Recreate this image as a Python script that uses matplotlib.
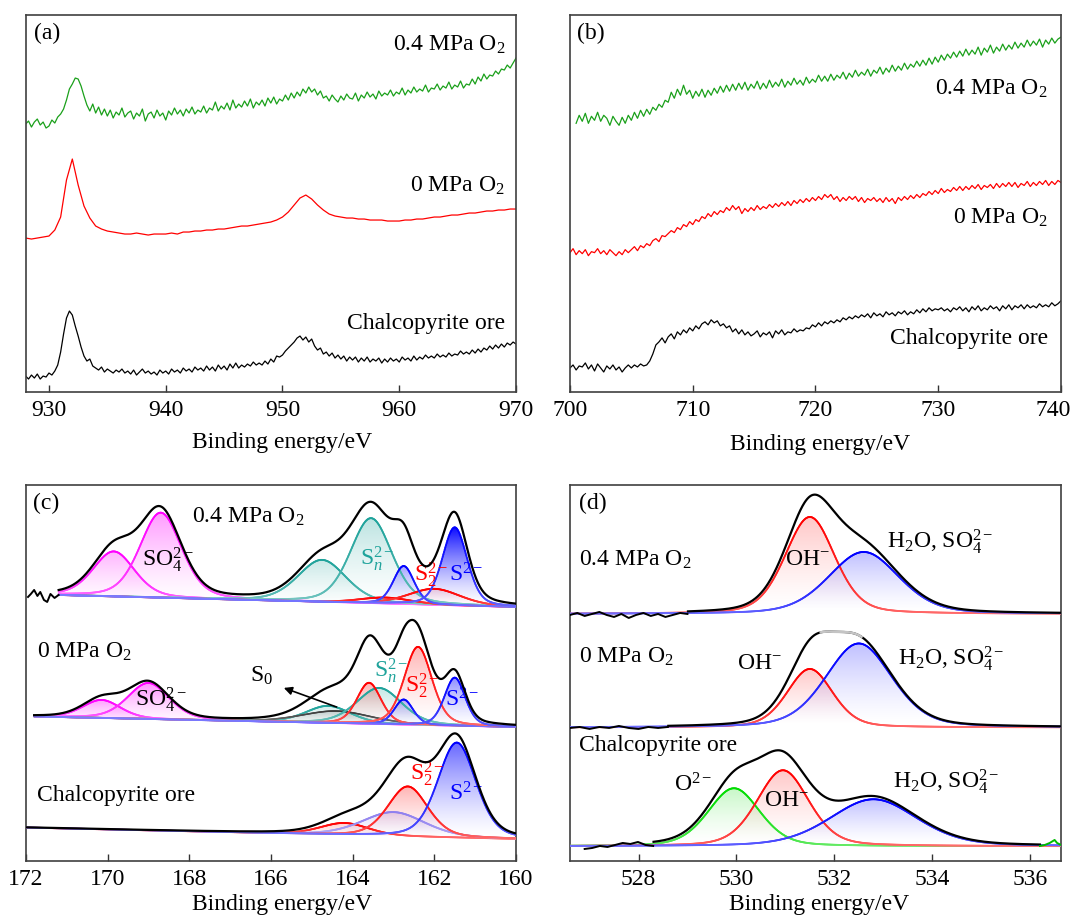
import numpy as np
import matplotlib
matplotlib.use('Agg')
import matplotlib.pyplot as plt
from matplotlib.path import Path
from matplotlib.patches import PathPatch
from matplotlib.collections import LineCollection
from matplotlib.colors import to_rgb
from matplotlib.transforms import ScaledTranslation

plt.rcParams['font.family'] = 'Liberation Serif'
plt.rcParams['mathtext.fontset'] = 'custom'
plt.rcParams['mathtext.rm'] = 'Liberation Serif'
plt.rcParams['mathtext.it'] = 'Liberation Serif:italic'
plt.rcParams['font.size'] = 17

##############################
# (a) Cu 2p, 928-970 eV (a.u., stacked)
##############################
# 0.25 eV step
cu_ore = [16, 13, 17, 14, 18, 13, 16, 15, 19, 17, 21, 27,
          40, 58, 74, 81, 77, 66, 56, 45, 36, 31, 33, 26,
          24, 22, 25, 20, 23, 21, 19, 22, 20, 23, 19, 21,
          18, 22, 17, 20, 23, 19, 21, 18, 20, 17, 22, 19,
          21, 18, 23, 20, 22, 19, 24, 21, 23, 20, 25, 22,
          24, 21, 26, 22, 25, 21, 27, 23, 26, 22, 28, 24,
          29, 24, 27, 25, 28, 26, 30, 27, 29, 27, 31, 28,
          33, 30, 36, 35, 37, 41, 44, 47, 50, 54, 56, 52,
          55, 50, 53, 46, 42, 44, 38, 40, 36, 39, 34, 37,
          33, 36, 31, 35, 32, 35, 30, 34, 31, 35, 30, 33,
          31, 34, 29, 33, 30, 34, 31, 33, 30, 35, 32, 34,
          31, 36, 32, 35, 33, 37, 34, 36, 34, 38, 35, 37,
          35, 39, 36, 38, 37, 41, 38, 40, 38, 42, 39, 43,
          40, 44, 42, 46, 43, 47, 44, 48, 45, 49, 47, 50,
          48]
# 0.5 eV step
cu_0mpa = [154, 153, 154, 155, 156, 162, 175, 212, 233, 207,
           186, 174, 166, 163, 161, 160, 159, 158, 158, 159,
           158, 157, 158, 158, 158, 159, 158, 160, 160, 161,
           161, 162, 162, 163, 163, 164, 165, 166, 166, 167,
           168, 169, 170, 172, 175, 180, 187, 194, 197, 193,
           187, 182, 178, 176, 175, 174, 174, 173, 173, 172,
           172, 172, 171, 171, 171, 172, 172, 173, 173, 174,
           175, 175, 176, 177, 177, 178, 179, 179, 180, 181,
           181, 182, 182, 183, 183]
# 0.25 eV step
cu_04mpa = [268, 271, 265, 270, 273, 267, 270, 264, 266, 272, 269, 275,
            278, 283, 292, 303, 308, 314, 313, 306, 296, 287, 281, 288,
            279, 285, 277, 283, 276, 282, 274, 280, 277, 284, 275, 279,
            281, 273, 279, 276, 283, 271, 278, 280, 274, 282, 276, 279,
            272, 281, 277, 284, 278, 282, 276, 283, 279, 285, 278, 282,
            280, 286, 279, 284, 282, 290, 281, 286, 283, 289, 282, 292,
            284, 288, 285, 291, 286, 293, 284, 290, 287, 292, 286, 294,
            289, 295, 288, 293, 291, 297, 292, 299, 294, 300, 296, 303,
            299, 305, 300, 303, 297, 301, 294, 296, 291, 297, 293, 290,
            296, 292, 298, 294, 293, 299, 291, 297, 294, 300, 295, 298,
            293, 301, 296, 299, 297, 302, 296, 300, 298, 304, 297, 302,
            299, 305, 300, 303, 301, 307, 300, 304, 303, 308, 302, 306,
            304, 310, 303, 307, 305, 311, 304, 308, 307, 313, 308, 315,
            311, 318, 313, 317, 316, 321, 318, 323, 322, 327, 324, 329,
            334]

##############################
# (b) Fe 2p, 700-740 eV, 0.25 eV step (0.4 MPa scan starts at 700.5 eV)
##############################
fe_ore = [24, 27, 22, 26, 25, 29, 23, 27, 21, 28, 24, 20,
          26, 23, 27, 22, 25, 20, 24, 27, 24, 27, 25, 28,
          26, 27, 31, 38, 47, 50, 54, 49, 55, 58, 53, 60,
          57, 62, 59, 64, 61, 66, 63, 68, 70, 67, 72, 69,
          71, 66, 68, 64, 66, 60, 63, 58, 62, 57, 60, 56,
          58, 61, 55, 59, 57, 60, 54, 61, 58, 62, 57, 60,
          59, 63, 60, 62, 61, 64, 63, 67, 65, 69, 66, 70,
          68, 71, 69, 72, 70, 74, 72, 75, 73, 76, 74, 77,
          75, 78, 74, 79, 76, 78, 75, 80, 77, 79, 76, 80,
          78, 81, 77, 80, 78, 82, 79, 83, 80, 84, 81, 83,
          82, 84, 81, 83, 80, 84, 82, 85, 81, 84, 80, 85,
          82, 86, 81, 84, 82, 86, 83, 85, 81, 86, 83, 87,
          82, 86, 84, 87, 83, 87, 84, 86, 84, 88, 85, 87,
          85, 89, 86, 88, 91]
fe_0mpa = [139, 143, 137, 141, 138, 142, 136, 140, 139, 143, 138, 141,
           137, 142, 139, 136, 140, 137, 142, 139, 142, 145, 141, 146,
           144, 148, 146, 151, 153, 150, 156, 155, 158, 161, 159, 164,
           162, 167, 165, 170, 167, 172, 170, 175, 173, 178, 175, 180,
           177, 181, 179, 184, 181, 186, 182, 185, 178, 183, 180, 184,
           181, 186, 182, 185, 183, 187, 184, 188, 185, 189, 186, 190,
           186, 191, 188, 192, 189, 193, 190, 194, 191, 195, 192, 197,
           194, 197, 192, 195, 190, 194, 191, 195, 192, 195, 190, 194,
           189, 193, 191, 194, 190, 193, 189, 194, 190, 193, 188, 194,
           191, 195, 192, 196, 193, 197, 194, 198, 196, 200, 197, 201,
           198, 203, 199, 202, 200, 204, 201, 205, 201, 205, 202, 206,
           203, 207, 202, 206, 204, 207, 203, 208, 204, 208, 205, 209,
           205, 209, 204, 208, 206, 210, 205, 209, 206, 210, 207, 211,
           206, 210, 207, 211, 209]
fe_04mpa = [268, 276,
            270, 278, 268, 275, 271, 279, 270, 276, 273, 266, 275, 270,
            266, 274, 268, 276, 271, 279, 273, 281, 275, 282, 277, 284,
            281, 287, 284, 291, 289, 299, 293, 302, 296, 306, 297, 301,
            293, 300, 295, 302, 294, 301, 296, 303, 298, 305, 299, 306,
            300, 307, 301, 308, 302, 309, 301, 307, 303, 310, 302, 308,
            303, 311, 304, 309, 305, 312, 304, 310, 306, 313, 307, 311,
            306, 314, 308, 312, 309, 316, 310, 315, 310, 317, 311, 316,
            313, 319, 312, 318, 314, 321, 315, 319, 316, 322, 315, 321,
            318, 324, 317, 323, 319, 326, 320, 325, 321, 328, 322, 327,
            324, 330, 325, 331, 326, 333, 327, 334, 329, 336, 331, 337,
            333, 339, 334, 340, 335, 342, 336, 341, 337, 344, 336, 343,
            339, 346, 338, 344, 340, 347, 341, 346, 342, 349, 343, 348,
            344, 351, 345, 350, 346, 352, 344, 351, 347, 353, 348, 352,
            354]

##############################
# (c) S 2p fits: (species, centre/eV, height, FWHM/eV)
##############################
s_span = [(171.2, 160.0), (171.8, 160.0), (172.0, 160.0)]
s_base = [(266, 254), (144.5, 134), (33.4, 22)]
s_peaks = [
    [('SO4', 169.85, 45, 1.2), ('SO4', 168.7, 85, 1.2), ('Sn', 164.75, 42, 1.4),
     ('Sn', 163.55, 85, 1.2), ('S2', 163.2, 6, 1.5), ('S2', 162.0, 16, 1.5),
     ('S', 162.75, 38, 0.6), ('S', 161.5, 78, 0.72)],
    [('SO4', 170.15, 18, 1.1), ('SO4', 169.0, 36, 1.2), ('Sn', 164.6, 17, 1.3),
     ('S0', 164.4, 12, 2.0), ('Sn', 163.35, 36, 1.3), ('S2', 163.6, 41, 0.7),
     ('S', 162.75, 25, 0.55), ('S2', 162.4, 78, 0.8), ('S', 161.5, 48, 0.6)],
    [('S2', 164.2, 12, 1.4), ('X', 163.0, 24, 1.8), ('S2', 162.65, 50, 1.15),
     ('S', 161.45, 95, 1.1)],
]
# noisy start of the 0.4 MPa scan
s_tail_x = [171.95, 171.88, 171.8, 171.72, 171.65, 171.56, 171.48, 171.4, 171.3, 171.2]
s_tail_y = [264, 267, 271, 265, 269, 261, 259, 267, 263, 266]

##############################
# (d) O 1s fits
##############################
o_base = [247, 133.5, 14.7]
o_peaks = [
    [('OH', 531.5, 97, 1.2), ('H2O', 532.6, 62, 1.7)],
    [('OH', 531.5, 58.5, 1.1), ('H2O', 532.5, 84, 1.6)],
    [('O', 529.95, 58, 1.25), ('OH', 530.95, 76, 1.25), ('H2O', 532.8, 47, 2.1)],
]
# raw low-energy edges before the fitted window
o_edge_top = [246, 248, 245, 247, 249, 246, 244, 247, 243, 246, 248, 245, 247, 244, 246, 248, 247]
o_edge_mid = [133, 134, 132, 134, 133, 135, 133, 132, 134, 133, 134]
o_edge_bot = [12, 13, 15, 14, 16, 18, 17, 19, 16, 15]
o_spike_x = [536.2, 536.3, 536.4, 536.5, 536.55, 536.63]
o_spike_y = [15, 16, 18, 21, 18, 16]

# styles
s_color = {'SO4': '#ff00ff', 'Sn': '#1fa39b', 'S2': '#ff0000', 'S': '#0000ff',
           'S0': '#3a3a3a', 'X': '#8f80ef'}
s_fill = [[0.30, 0.40, 0.25, 0.30, 0.10, 0.15, 0.35, 0.95],
          [0.40, 0.45, 0.20, 0.20, 0.25, 0.30, 0.30, 0.30, 0.45],
          [0.20, 0.25, 0.30, 0.60]]
o_color = {'OH': '#ff0000', 'H2O': '#0000ff', 'O': '#00dd00'}
o_fill = [[0.22, 0.25], [0.22, 0.25], [0.22, 0.22, 0.25]]


def pv(x, c, a, w, eta=0.3):
    # pseudo-Voigt line shape
    t = (x - c) / w
    return a * ((1 - eta) * np.exp(-4 * np.log(2) * t ** 2) + eta / (1 + 4 * t ** 2))


def grad_fill(ax, x, y, base, color, amax):
    rgba = np.zeros((64, 1, 4))
    rgba[..., :3] = to_rgb(color)
    rgba[:, 0, 3] = amax * np.linspace(0, 1, 64) ** 1.4
    im = ax.imshow(rgba, extent=[x.min(), x.max(), base.min(), y.max()], origin='lower',
                   aspect='auto', interpolation='bilinear', zorder=1)
    verts = np.concatenate([np.column_stack([x, y]), np.column_stack([x[::-1], base[::-1]])])
    patch = PathPatch(Path(verts), facecolor='none', edgecolor='none')
    ax.add_patch(patch)
    im.set_clip_path(patch)


def fade_line(ax, x, y, base, amp, color, lw):
    # component line that pales towards the baseline
    pts = np.column_stack([x, y]).reshape(-1, 1, 2)
    segs = np.concatenate([pts[:-1], pts[1:]], axis=1)
    h = np.clip(((y[:-1] + y[1:]) / 2 - base[:-1]) / amp, 0, 1)
    f = 0.5 + 0.5 * h ** 0.4
    c = np.array(to_rgb(color))
    cols = f[:, None] * c + (1 - f[:, None]) * np.ones(3)
    ax.add_collection(LineCollection(segs, colors=cols, linewidths=lw, zorder=3,
                                     capstyle='round'))


def style(ax, lim, ticks, height, lab_xy):
    ax.set_xlim(*lim)
    ax.set_ylim(0, height)
    ax.set_xticks(ticks)
    ax.set_yticks([])
    ax.tick_params(axis='x', direction='in', length=5, width=1, pad=6, color='#333333')
    for s in ax.spines.values():
        s.set_color('#404040')
        s.set_linewidth(1.2)
    ax.set_xlabel('Binding energy/eV', va='top')
    ax.xaxis.set_label_coords(*lab_xy)


fig = plt.figure(figsize=(10.73, 9.22), dpi=100)
ax_a = fig.add_axes([0.0242, 0.5748, 0.4567, 0.4089])
ax_b = fig.add_axes([0.5312, 0.5748, 0.4576, 0.4089])
ax_c = fig.add_axes([0.0242, 0.0662, 0.4567, 0.4078])
ax_d = fig.add_axes([0.5312, 0.0662, 0.4576, 0.4078])

# ---- (a)
ax_a.plot(np.linspace(928, 970, len(cu_ore)), cu_ore, color='k', lw=0.9)
ax_a.plot(np.linspace(928, 970, len(cu_0mpa)), cu_0mpa, color='#ff0000', lw=0.9)
ax_a.plot(np.linspace(928, 970, len(cu_04mpa)), cu_04mpa, color='#1aa01a', lw=0.9)
style(ax_a, (928.03, 970), [930, 940, 950, 960, 970], 377, (0.522, -0.107))
ax_a.text(0.016, 0.952, '(a)', transform=ax_a.transAxes, va='center')
ax_a.text(0.978, 0.920, '0.4 MPa O$_2$', transform=ax_a.transAxes, ha='right', va='center')
ax_a.text(0.978, 0.547, '0 MPa O$_2$', transform=ax_a.transAxes, ha='right', va='center')
ax_a.text(0.978, 0.182, 'Chalcopyrite ore', transform=ax_a.transAxes, ha='right', va='center')

# ---- (b)
ax_b.plot(np.linspace(700, 740, len(fe_ore)), fe_ore, color='k', lw=0.9)
ax_b.plot(np.linspace(700, 740, len(fe_0mpa)), fe_0mpa, color='#ff0000', lw=0.9)
ax_b.plot(np.linspace(700.5, 740, len(fe_04mpa)), fe_04mpa, color='#1aa01a', lw=0.9)
style(ax_b, (700, 740), [700, 710, 720, 730, 740], 376, (0.509, -0.112))
# keep the last tick label inside the canvas
last = ax_b.get_xticklabels()[-1]
last.set_transform(last.get_transform() + ScaledTranslation(-0.08, 0, fig.dpi_scale_trans))
ax_b.text(0.015, 0.952, '(b)', transform=ax_b.transAxes, va='center')
ax_b.text(0.9735, 0.804, '0.4 MPa O$_2$', transform=ax_b.transAxes, ha='right', va='center')
ax_b.text(0.9735, 0.463, '0 MPa O$_2$', transform=ax_b.transAxes, ha='right', va='center')
ax_b.text(0.9735, 0.141, 'Chalcopyrite ore', transform=ax_b.transAxes, ha='right', va='center')

# ---- (c)
for span, (b0, b1), peaks, fills in zip(s_span, s_base, s_peaks, s_fill):
    x = np.linspace(span[0], span[1], 700)
    base = b0 + (b1 - b0) * (x - span[0]) / (span[1] - span[0])
    total = base.copy()
    for (sp, c, a, w), fa in zip(peaks, fills):
        comp = pv(x, c, a, w)
        total += comp
        grad_fill(ax_c, x, base + comp, base, s_color[sp], fa)
        fade_line(ax_c, x, base + comp, base, a, s_color[sp], 1.1 if sp == 'S0' else 1.3)
    ax_c.plot(x, total, color='k', lw=1.6, zorder=4)
ax_c.plot(s_tail_x, s_tail_y, color='k', lw=1.4, zorder=4)
style(ax_c, (172, 160), [172, 170, 168, 166, 164, 162, 160], 376, (0.522, -0.089))
ax_c.text(0.014, 0.952, '(c)', transform=ax_c.transAxes, va='center')
ax_c.text(167.93, 344, '0.4 MPa O$_2$', va='center')
ax_c.text(169.17, 301, 'SO$_4^{2-}$', va='center')
ax_c.text(163.82, 302, 'S$_n^{2-}$', va='center', color=s_color['Sn'])
ax_c.text(162.50, 286, 'S$_2^{2-}$', va='center', color='#ff0000')
ax_c.text(161.64, 286, 'S$^{2-}$', va='center', color='#0000ff')
ax_c.text(171.72, 209, '0 MPa O$_2$', va='center')
ax_c.text(169.34, 161, 'SO$_4^{2-}$', va='center')
ax_c.text(166.52, 185, 'S$_0$', va='center')
ax_c.annotate('', xy=(165.75, 174), xytext=(164.33, 153),
              arrowprops=dict(arrowstyle='-|>', color='k', lw=1.2, mutation_scale=12))
ax_c.text(163.48, 190, 'S$_n^{2-}$', va='center', color=s_color['Sn'])
ax_c.text(162.72, 175, 'S$_2^{2-}$', va='center', color='#ff0000')
ax_c.text(161.75, 161, 'S$^{2-}$', va='center', color='#0000ff')
ax_c.text(171.72, 65, 'Chalcopyrite ore', va='center')
ax_c.text(162.60, 87, 'S$_2^{2-}$', va='center', color='#ff0000')
ax_c.text(161.63, 67, 'S$^{2-}$', va='center', color='#0000ff')

# ---- (d)
edges = [(526.6, 529.0, o_edge_top), (526.6, 528.6, o_edge_mid), (526.9, 528.3, o_edge_bot)]
for (e0, e1, edge), b, peaks, fills in zip(edges, o_base, o_peaks, o_fill):
    x = np.linspace(526.6, 536.63, 700)
    base = np.full_like(x, b)
    total = base.copy()
    for (sp, c, a, w), fa in zip(peaks, fills):
        comp = pv(x, c, a, w)
        total += comp
        grad_fill(ax_d, x, base + comp, base, o_color[sp], fa)
        fade_line(ax_d, x, base + comp, base, a, o_color[sp], 1.3)
    env = np.where(x >= e1, total, np.nan)
    if b == o_base[1]:
        # the top of this envelope is plotted grey
        grey = (x > 531.72) & (x < 532.56)
        ax_d.plot(x[grey], total[grey], color='#c4c4c4', lw=1.8, zorder=5)
    if b == o_base[2]:
        env = np.where(x <= 536.2, env, np.nan)
    ax_d.plot(x, env, color='k', lw=1.6, zorder=4)
    ax_d.plot(np.linspace(e0, e1, len(edge)), edge, color='k', lw=1.4, zorder=4)
ax_d.plot(o_spike_x, o_spike_y, color='#00bb00', lw=1.4, zorder=4)
style(ax_d, (526.6, 536.63), [528, 530, 532, 534, 536], 376, (0.507, -0.089))
ax_d.text(0.018, 0.952, '(d)', transform=ax_d.transAxes, va='center')
ax_d.text(526.79, 301, '0.4 MPa O$_2$', va='center')
ax_d.text(530.99, 301, 'OH$^{-}$', va='center')
ax_d.text(533.08, 319, 'H$_2$O, SO$_4^{2-}$', va='center')
ax_d.text(526.79, 204, '0 MPa O$_2$', va='center')
ax_d.text(530.01, 197.5, 'OH$^{-}$', va='center')
ax_d.text(533.30, 202.5, 'H$_2$O, SO$_4^{2-}$', va='center')
ax_d.text(526.79, 115.7, 'Chalcopyrite ore', va='center')
ax_d.text(528.73, 75.7, 'O$^{2-}$', va='center')
ax_d.text(530.56, 60.7, 'OH$^{-}$', va='center')
ax_d.text(533.20, 79, 'H$_2$O, SO$_4^{2-}$', va='center')

fig.savefig('out.png', dpi=100)
